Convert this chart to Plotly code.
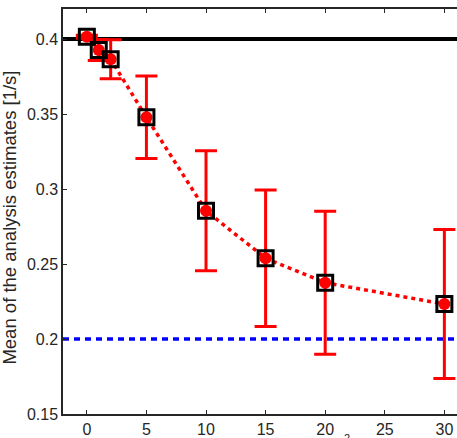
import plotly.graph_objects as go

x_vals = [0, 1, 2, 5, 10, 15, 20, 30]
mean_est = [0.4015, 0.3927, 0.3865, 0.3478, 0.2855, 0.2538, 0.2375, 0.2233]
err_est = [0.001, 0.007, 0.013, 0.0275, 0.040, 0.0455, 0.0477, 0.0497]
analysis_vals = [0.4015, 0.3927, 0.3865, 0.3478, 0.2855, 0.2538, 0.2375, 0.2233]
true_value = 0.4
prior_value = 0.2

y_ticks = [0.15, 0.2, 0.25, 0.3, 0.35, 0.4]
y_tick_text = ["0.15", "0.2", "0.25", "0.3", "0.35", "0.4"]
x_ticks = [0, 5, 10, 15, 20, 25, 30]
x_tick_text = ["0", "5", "10", "15", "20", "25", "30"]

W, H = 457, 438
ml, mt, mb, mr = 63, 9, 24, 0

fig = go.Figure()

fig.add_hline(y=true_value, line=dict(color="black", width=4), layer="below")
fig.add_hline(y=prior_value, line=dict(color="#0000ff", width=3.5, dash="6px,5px"), layer="below")

fig.add_trace(go.Scatter(
    x=x_vals, y=mean_est,
    mode="lines+markers",
    line=dict(color="#ff0000", width=3.5, dash="4px,4px"),
    marker=dict(symbol="circle", size=12, color="#ff0000"),
    error_y=dict(type="data", array=err_est, visible=True,
                 color="#ff0000", thickness=3, width=11),
    showlegend=False,
))

fig.add_trace(go.Scatter(
    x=x_vals, y=analysis_vals,
    mode="markers",
    marker=dict(symbol="square-open", size=15, color="black",
                line=dict(color="black", width=3)),
    showlegend=False,
))

font = dict(family="Liberation Sans, Arial, Helvetica, sans-serif", size=16, color="#262626")

fig.update_layout(
    width=W, height=H,
    margin=dict(l=ml, r=mr, t=mt, b=mb, pad=0),
    plot_bgcolor="white", paper_bgcolor="white",
    font=font,
    xaxis=dict(
        range=[-2, 31.06], tickvals=x_ticks, ticktext=x_tick_text,
        ticks="inside", ticklen=4, tickwidth=1, tickcolor="#262626",
        showline=True, linecolor="#262626", linewidth=1.5, mirror="ticks",
        showgrid=False, zeroline=False, tickfont=font,
    ),
    yaxis=dict(
        range=[0.15, 0.42], tickvals=y_ticks, ticktext=y_tick_text,
        ticks="inside", ticklen=4, tickwidth=1, tickcolor="#262626",
        showline=True, linecolor="#262626", linewidth=1.5, mirror=False,
        showgrid=False, zeroline=False, tickfont=font,
    ),
    annotations=[
        dict(text="Mean of the analysis estimates [1/s]", textangle=-90,
             xref="paper", yref="paper", x=(10 - ml) / (W - ml - mr), y=0.485,
             xanchor="center", yanchor="middle", showarrow=False,
             font=dict(family=font["family"], size=18.5, color="#262626")),
        dict(text="2", xref="paper", yref="paper",
             x=(347 - ml) / (W - ml - mr), y=-(430 - (H - mb)) / (H - mt - mb),
             xanchor="center", yanchor="top", showarrow=False,
             font=dict(family=font["family"], size=11, color="#262626")),
    ],
)

fig.write_html("out.html")
